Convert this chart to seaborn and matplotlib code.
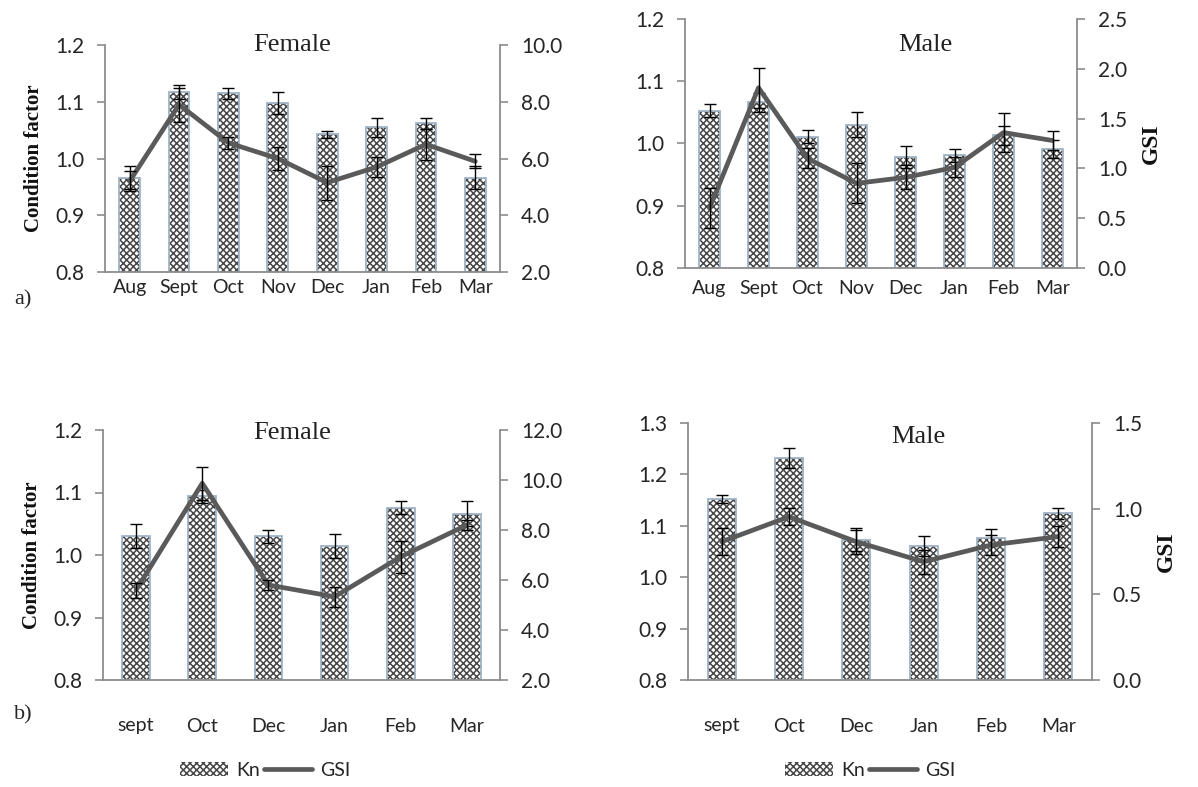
import numpy as np
import pandas as pd
import matplotlib
matplotlib.use("Agg")
import matplotlib.pyplot as plt
import matplotlib.patches as mpatches
import matplotlib.lines as mlines
import seaborn as sns

sns.set_theme(style="white")
plt.rcParams["font.family"] = ["Lato", "DejaVu Sans"]
plt.rcParams["hatch.linewidth"] = 1.1

# ---- data -----------------------------------------------------------------
months_a = ["Aug", "Sept", "Oct", "Nov", "Dec", "Jan", "Feb", "Mar"]
months_b = ["sept", "Oct", "Dec", "Jan", "Feb", "Mar"]

# a) Female
kn_a_f = [0.966, 1.117, 1.115, 1.098, 1.043, 1.055, 1.062, 0.966]
kn_a_f_err = [0.020, 0.012, 0.010, 0.020, 0.006, 0.017, 0.010, 0.020]
gsi_a_f = [5.2, 7.9, 6.55, 6.0, 5.15, 5.7, 6.5, 5.9]
gsi_a_f_err = [0.35, 0.6, 0.2, 0.4, 0.6, 0.35, 0.55, 0.25]

# a) Male
kn_a_m = [1.053, 1.066, 1.011, 1.030, 0.978, 0.981, 1.013, 0.991]
kn_a_m_err = [0.010, 0.015, 0.010, 0.020, 0.018, 0.010, 0.015, 0.015]
gsi_a_m = [0.60, 1.81, 1.10, 0.85, 0.91, 1.01, 1.36, 1.28]
gsi_a_m_err = [0.20, 0.20, 0.10, 0.20, 0.12, 0.10, 0.20, 0.10]

# b) Female
kn_b_f = [1.030, 1.094, 1.030, 1.014, 1.076, 1.066]
kn_b_f_err = [0.019, 0.010, 0.010, 0.019, 0.010, 0.020]
gsi_b_f = [5.6, 9.87, 5.8, 5.33, 6.93, 8.2]
gsi_b_f_err = [0.3, 0.65, 0.2, 0.4, 0.65, 0.2]

# b) Male
kn_b_m = [1.152, 1.232, 1.073, 1.061, 1.077, 1.124]
kn_b_m_err = [0.007, 0.020, 0.022, 0.020, 0.017, 0.010]
gsi_b_m = [0.807, 0.953, 0.807, 0.69, 0.788, 0.837]
gsi_b_m_err = [0.08, 0.05, 0.07, 0.07, 0.06, 0.06]

# ---- figure ----------------------------------------------------------------
W, H = 1198, 787
fig = plt.figure(figsize=(W / 100, H / 100), dpi=100)
fig.patch.set_facecolor("white")

SPINE = "#8c8c8c"
HATCH = "#474747"
EDGE = "#9fb4c8"
LINE = "#5a5a5a"
TICKFONT = 14
SERIF = ["Liberation Serif", "DejaVu Serif"]


def px_axes(left, top, right, bottom):
    return fig.add_axes([left / W, 1 - bottom / H, (right - left) / W, (bottom - top) / H])


def panel(box, months, kn, kn_err, gsi, gsi_err, kn_lim, kn_ticks, gsi_lim, gsi_ticks,
          xpad, left_label=False, right_label=False):
    ax = px_axes(*box)
    df = pd.DataFrame({"month": months, "kn": kn})
    pos = np.arange(len(months))

    # hatched bars, then a light outline on top
    sns.barplot(data=df, x="month", y="kn", ax=ax, color="white", width=0.42,
                edgecolor=HATCH, linewidth=0, hatch="xxxxx", errorbar=None)
    sns.barplot(data=df, x="month", y="kn", ax=ax, fill=False, width=0.42,
                edgecolor=EDGE, linewidth=1.3, errorbar=None)
    ax.errorbar(pos, kn, yerr=kn_err, fmt="none", ecolor="black",
                elinewidth=1.0, capsize=4, capthick=1.0, zorder=5)

    ax.set_ylim(*kn_lim)
    ax.set_yticks(kn_ticks)
    ax.set_yticklabels([f"{t:.1f}" for t in kn_ticks])
    ax.set_xlim(-0.5, len(months) - 0.5)
    ax.set_xlabel("")
    ax.set_ylabel("")

    ax2 = ax.twinx()
    sns.lineplot(x=pos, y=gsi, ax=ax2, color=LINE, linewidth=3.4, zorder=3)
    ax2.errorbar(pos, gsi, yerr=gsi_err, fmt="none", ecolor="black",
                 elinewidth=1.0, capsize=4, capthick=1.0, zorder=6)
    ax2.set_ylim(*gsi_lim)
    ax2.set_yticks(gsi_ticks)
    ax2.set_yticklabels([f"{t:.1f}" for t in gsi_ticks])
    ax2.set_xlim(-0.5, len(months) - 0.5)

    for a in (ax, ax2):
        for s in a.spines.values():
            s.set_visible(False)
    ax.spines["left"].set_visible(True)
    ax.spines["bottom"].set_visible(True)
    ax2.spines["right"].set_visible(True)
    for s in (ax.spines["left"], ax.spines["bottom"], ax2.spines["right"]):
        s.set_color(SPINE)
        s.set_linewidth(1.3)

    # category ticks between the bars, as on a spreadsheet chart
    ax.set_xticks(pos)
    ax.set_xticklabels(months)
    ax.set_xticks(np.arange(len(months) + 1) - 0.5, minor=True)
    ax.tick_params(axis="x", which="major", length=0, pad=xpad,
                   labelsize=TICKFONT, colors="#262626")
    ax.tick_params(axis="x", which="minor", length=6, width=1.2, color=SPINE, direction="out")
    ax.tick_params(axis="y", length=6, width=1.2, color=SPINE, direction="out",
                   pad=9, labelsize=TICKFONT + 1, labelcolor="#262626", left=True)
    ax2.tick_params(axis="y", length=6, width=1.2, color=SPINE, direction="out",
                    pad=9, labelsize=TICKFONT + 1, labelcolor="#262626", right=True)
    ax2.set_ylabel("")
    ax.grid(False)
    ax2.grid(False)

    if left_label:
        ax.set_ylabel("Condition factor", family=SERIF, fontweight="bold",
                      fontsize=15, labelpad=8, color="#111111")
    if right_label:
        ax2.set_ylabel("GSI", family=SERIF, fontweight="bold", fontsize=17,
                       labelpad=10, color="#111111")
    return ax, ax2


panel((105, 45, 500, 272), months_a, kn_a_f, kn_a_f_err, gsi_a_f, gsi_a_f_err,
      (0.8, 1.2), [0.8, 0.9, 1.0, 1.1, 1.2], (2.0, 10.0), [2.0, 4.0, 6.0, 8.0, 10.0],
      xpad=5, left_label=True)
panel((685, 19, 1077, 268), months_a, kn_a_m, kn_a_m_err, gsi_a_m, gsi_a_m_err,
      (0.8, 1.2), [0.8, 0.9, 1.0, 1.1, 1.2], (0.0, 2.5), [0.0, 0.5, 1.0, 1.5, 2.0, 2.5],
      xpad=9, right_label=True)
panel((103, 430, 500, 680), months_b, kn_b_f, kn_b_f_err, gsi_b_f, gsi_b_f_err,
      (0.8, 1.2), [0.8, 0.9, 1.0, 1.1, 1.2], (2.0, 12.0), [2.0, 4.0, 6.0, 8.0, 10.0, 12.0],
      xpad=27, left_label=True)
panel((688, 423, 1092, 680), months_b, kn_b_m, kn_b_m_err, gsi_b_m, gsi_b_m_err,
      (0.8, 1.3), [0.8, 0.9, 1.0, 1.1, 1.2, 1.3], (0.0, 1.5), [0.0, 0.5, 1.0, 1.5],
      xpad=27, right_label=True)

# panel titles
for x, y, txt in [(292, 45, "Female"), (925, 45, "Male"), (292, 433, "Female"), (918, 437, "Male")]:
    fig.text(x / W, 1 - y / H, txt, family=SERIF, fontsize=19, ha="center", va="center",
             color="#222222")

# panel letters
fig.text(14 / W, 1 - 300 / H, "a)", family=SERIF, fontsize=16, ha="left", va="center")
fig.text(14 / W, 1 - 715 / H, "b)", family=SERIF, fontsize=16, ha="left", va="center")

# legends under the lower panels
kn_handle = mpatches.Patch(facecolor="white", edgecolor=HATCH, hatch="xxxxx", linewidth=0)
gsi_handle = mlines.Line2D([], [], color=LINE, linewidth=3.4)
for cx in (265 / W, 870 / W):
    fig.legend([kn_handle, gsi_handle], ["Kn", "GSI"], loc="center",
               bbox_to_anchor=(cx, 1 - 770 / H), ncol=2, frameon=False,
               fontsize=14, handlelength=2.5, handletextpad=0.4, columnspacing=0.2)

fig.savefig("out.png", dpi=100, facecolor="white")
